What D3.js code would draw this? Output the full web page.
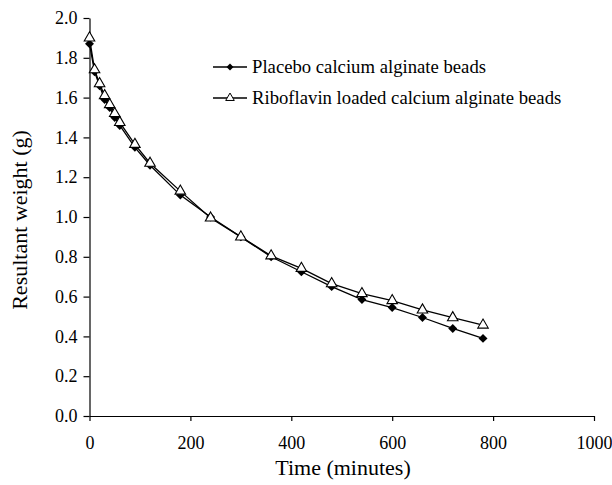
<html>
<head>
<style>
  body { margin: 0; background: #fff; }
  svg text { font-family: "Liberation Serif", "Times New Roman", serif !important; fill: #000; }
  .axis path, .axis line { stroke: #000; stroke-width: 1.2; }
  .axis text { font-size: 18px; }
</style>
</head>
<body>
<script src="https://cdn.jsdelivr.net/npm/d3@7"></script>
<svg id="chart" width="612" height="485"></svg>
<script>
// time points (minutes)
const times = [0, 10, 20, 30, 40, 50, 60, 90, 120, 180, 240, 300, 360, 420, 480, 540, 600, 660, 720, 780];
// resultant weight (g)
const placebo = [1.87, 1.73, 1.66, 1.59, 1.55, 1.50, 1.46, 1.35, 1.26, 1.11, 1.00, 0.90, 0.80, 0.725, 0.65, 0.585, 0.545, 0.495, 0.44, 0.39];
const riboflavin = [1.90, 1.74, 1.67, 1.61, 1.565, 1.52, 1.475, 1.365, 1.27, 1.13, 0.995, 0.90, 0.805, 0.742, 0.665, 0.615, 0.58, 0.533, 0.494, 0.457];
const seriesNames = ["Placebo calcium alginate beads", "Riboflavin loaded calcium alginate beads"];
const xTicks = [0, 200, 400, 600, 800, 1000];
const yTicks = [0, 0.2, 0.4, 0.6, 0.8, 1.0, 1.2, 1.4, 1.6, 1.8, 2.0];

const serif = '"Liberation Serif", "Times New Roman", serif';
let svg = d3.select("#chart");

let x = d3.scaleLinear().domain([0, 1000]).range([89.5, 594]);
let y = d3.scaleLinear().domain([0, 2.0]).range([416, 18]);

let xAxis = svg.append("g")
    .attr("class", "axis")
    .attr("transform", "translate(0,416)")
    .call(d3.axisBottom(x).tickValues(xTicks).tickSize(5).tickSizeOuter(0).tickPadding(15).tickFormat(d3.format("d")));

let yAxis = svg.append("g")
    .attr("class", "axis")
    .attr("transform", "translate(89.5,0)")
    .call(d3.axisLeft(y).tickValues(yTicks).tickSize(6).tickSizeOuter(0).tickPadding(6).tickFormat(d3.format(".1f")));

xAxis.attr("font-family", serif).attr("font-size", 18);
yAxis.attr("font-family", serif).attr("font-size", 18);

// axis titles
svg.append("text")
    .attr("x", 343).attr("y", 475)
    .attr("text-anchor", "middle")
    .attr("font-family", serif)
    .style("font-size", "22px")
    .text("Time (minutes)");

svg.append("text")
    .attr("transform", "translate(27,220) rotate(-90)")
    .attr("text-anchor", "middle")
    .attr("font-family", serif)
    .style("font-size", "22px")
    .text("Resultant weight (g)");

let line = d3.line()
    .x(d => x(d[0]))
    .y(d => y(d[1]));

const dataA = times.map((t, i) => [t, placebo[i]]);
const dataB = times.map((t, i) => [t, riboflavin[i]]);

// square rotated 45 degrees gives an even diamond
const diamond = d3.symbol().type(d3.symbolSquare).size(40);
const triangle = d3.symbol().type(d3.symbolTriangle).size(48);

svg.append("path").datum(dataB)
    .attr("d", line).attr("fill", "none").attr("stroke", "#000").attr("stroke-width", 1.3);
svg.append("path").datum(dataA)
    .attr("d", line).attr("fill", "none").attr("stroke", "#000").attr("stroke-width", 1.3);

svg.selectAll(".ptA").data(dataA).enter()
    .append("path")
    .attr("class", "ptA")
    .attr("d", diamond)
    .attr("transform", d => "translate(" + x(d[0]) + "," + y(d[1]) + ") rotate(45)")
    .attr("fill", "#000");

svg.selectAll(".ptB").data(dataB).enter()
    .append("path")
    .attr("class", "ptB")
    .attr("d", triangle)
    .attr("transform", d => "translate(" + x(d[0]) + "," + y(d[1]) + ")")
    .attr("fill", "#fff").attr("stroke", "#000").attr("stroke-width", 1.1);

// legend
let legend = svg.append("g");
[0, 1].forEach(i => {
    let ly = 67 + i * 31;
    legend.append("line")
        .attr("x1", 213).attr("x2", 247).attr("y1", ly).attr("y2", ly)
        .attr("stroke", "#000").attr("stroke-width", 1.3);
    legend.append("path")
        .attr("d", i === 0 ? d3.symbol().type(d3.symbolSquare).size(24)() : d3.symbol().type(d3.symbolTriangle).size(32)())
        .attr("transform", "translate(230," + ly + ")" + (i === 0 ? " rotate(45)" : ""))
        .attr("fill", i === 0 ? "#000" : "#fff")
        .attr("stroke", "#000").attr("stroke-width", i === 0 ? 0 : 1);
    legend.append("text")
        .attr("x", 252).attr("y", ly + 6)
        .attr("font-family", serif)
        .style("font-size", "18.7px")
        .text(seriesNames[i]);
});
</script>
</body>
</html>
